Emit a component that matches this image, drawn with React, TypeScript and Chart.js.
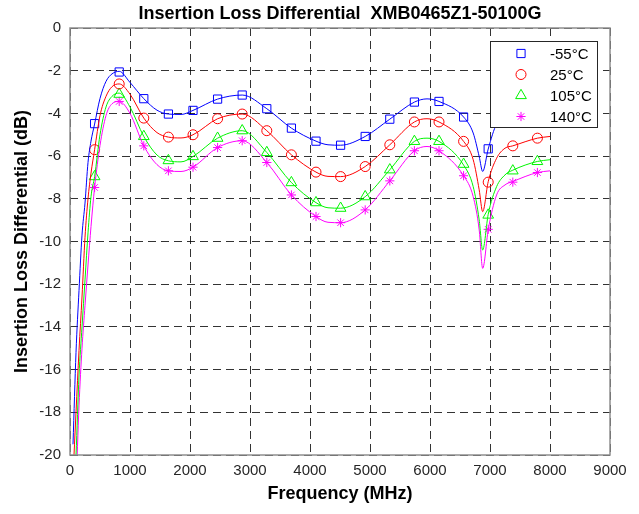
import React, { useEffect, useRef } from "react";
import { Chart, registerables } from "chart.js";
Chart.register(...registerables);

const FONT = "'Liberation Sans', Arial, Helvetica, sans-serif";
const chartTitle = "Insertion Loss Differential  XMB0465Z1-50100G";
const xTitle = "Frequency (MHz)";
const yTitle = "Insertion Loss Differential (dB)";
const seriesLabels = ["-55°C", "25°C", "105°C", "140°C"];
const seriesColors = ["rgb(0,0,255)", "rgb(255,0,0)", "rgb(0,245,0)", "rgb(255,0,255)"];
const markerStyles = ["rect", "circle", "triangle", "star"];
const markerRadii = [5.8, 5, 6.2, 4.6];

const xTicks = [0, 1000, 2000, 3000, 4000, 5000, 6000, 7000, 8000, 9000];
const yTicks = [-20, -18, -16, -14, -12, -10, -8, -6, -4, -2, 0];

// dense curve
const curveFreqs = [50, 100, 150, 200, 250, 300, 350, 410, 500, 600, 700, 820, 1000, 1230, 1450, 1640, 1850, 2050, 2460, 2870, 3280, 3690, 4100, 4300, 4510, 4920, 5330, 5740, 5950, 6150, 6560, 6720, 6820, 6878, 6970, 7110, 7250, 7380, 7790, 8000];
const curveM55 = [-19.5, -15.2, -12.3, -9.7, -8.2, -6.3, -5.3, -4.5, -3.3, -2.5, -2.15, -2.03, -2.55, -3.31, -3.85, -4.03, -4.05, -3.86, -3.33, -3.14, -3.78, -4.69, -5.3, -5.47, -5.49, -5.08, -4.27, -3.47, -3.32, -3.44, -4.17, -4.92, -6.02, -6.72, -5.67, -4.5, -4.25, -4.15, -3.9, -3.85];
const curve25 = [-21, -18, -15.1, -12.6, -9.8, -8.0, -6.8, -5.7, -4.1, -3.2, -2.75, -2.62, -3.1, -4.22, -4.9, -5.11, -5.15, -5.0, -4.25, -4.03, -4.81, -5.94, -6.75, -6.95, -6.96, -6.49, -5.47, -4.4, -4.25, -4.4, -5.31, -6.17, -7.58, -8.6, -7.2, -6.1, -5.63, -5.52, -5.16, -5.08];
const curve105 = [-23, -20, -16.3, -14, -11.8, -9.6, -7.9, -6.96, -5.0, -3.7, -3.2, -3.05, -3.7, -5.08, -5.95, -6.22, -6.27, -6.02, -5.16, -4.81, -5.83, -7.24, -8.18, -8.42, -8.44, -7.9, -6.64, -5.31, -5.16, -5.31, -6.42, -7.43, -8.99, -10.4, -8.73, -7.43, -6.88, -6.66, -6.25, -6.17];
const curve140 = [-24, -21.5, -17.7, -15, -13, -11.1, -9.3, -7.47, -5.5, -4.1, -3.55, -3.44, -4.0, -5.52, -6.4, -6.69, -6.72, -6.52, -5.6, -5.28, -6.3, -7.82, -8.83, -9.1, -9.12, -8.52, -7.16, -5.75, -5.55, -5.75, -6.92, -7.9, -9.46, -11.26, -9.46, -7.82, -7.35, -7.19, -6.77, -6.69];

// measured marker points
const markerFreqs = [410, 820, 1230, 1640, 2050, 2460, 2870, 3280, 3690, 4100, 4510, 4920, 5330, 5740, 6150, 6560, 6970, 7380, 7790];
const markM55 = [-4.48, -2.06, -3.31, -4.03, -3.86, -3.33, -3.14, -3.78, -4.69, -5.3, -5.49, -5.08, -4.27, -3.47, -3.44, -4.17, -5.66, -4.15, -3.9];
const mark25 = [-5.7, -2.62, -4.22, -5.11, -5.0, -4.25, -4.03, -4.81, -5.94, -6.75, -6.96, -6.49, -5.47, -4.4, -4.4, -5.31, -7.22, -5.52, -5.16];
const mark105 = [-6.96, -3.1, -5.08, -6.21, -6.02, -5.16, -4.81, -5.83, -7.24, -8.18, -8.44, -7.9, -6.64, -5.31, -5.31, -6.38, -8.76, -6.69, -6.25];
const mark140 = [-7.47, -3.44, -5.52, -6.69, -6.52, -5.6, -5.28, -6.3, -7.82, -8.83, -9.12, -8.52, -7.16, -5.75, -5.75, -6.92, -9.43, -7.22, -6.77];

const curves = [curveM55, curve25, curve105, curve140];
const marks = [markM55, mark25, mark105, mark140];

function drawMarker(ctx: CanvasRenderingContext2D, style: string, x: number, y: number, r: number, color: string) {
  ctx.save();
  ctx.strokeStyle = color;
  ctx.lineWidth = 1;
  ctx.beginPath();
  if (style === "rect") {
    const s = Math.SQRT1_2 * r;
    ctx.rect(x - s, y - s, 2 * s, 2 * s);
  } else if (style === "circle") {
    ctx.arc(x, y, r, 0, Math.PI * 2);
  } else if (style === "triangle") {
    ctx.moveTo(x, y - r);
    ctx.lineTo(x + r * Math.sin(Math.PI / 3), y + r * 0.5);
    ctx.lineTo(x - r * Math.sin(Math.PI / 3), y + r * 0.5);
    ctx.closePath();
  } else {
    for (let i = 0; i < 4; i++) {
      const a = (i * Math.PI) / 4;
      ctx.moveTo(x - r * Math.cos(a), y - r * Math.sin(a));
      ctx.lineTo(x + r * Math.cos(a), y + r * Math.sin(a));
    }
  }
  ctx.stroke();
  ctx.restore();
}

const decorPlugin = {
  id: "decor",
  afterDraw(chart: any) {
    const { ctx, chartArea } = chart;
    ctx.save();
    // frame
    ctx.strokeStyle = "#8f8f8f";
    ctx.lineWidth = 1.5;
    ctx.strokeRect(chartArea.left, chartArea.top, chartArea.right - chartArea.left, chartArea.bottom - chartArea.top);
    // title
    ctx.fillStyle = "#000";
    ctx.font = `bold 18px ${FONT}`;
    ctx.textAlign = "center";
    ctx.textBaseline = "middle";
    ctx.fillText(chartTitle, (chartArea.left + chartArea.right) / 2, 14);
    // legend
    const w = 107, h = 86;
    const x0 = Math.round(chartArea.right - 13 - w);
    const y0 = Math.round(chartArea.top + 13);
    ctx.fillStyle = "#fff";
    ctx.fillRect(x0, y0, w, h);
    ctx.strokeStyle = "#262626";
    ctx.lineWidth = 1;
    ctx.strokeRect(x0 + 0.5, y0 + 0.5, w, h);
    ctx.font = `15px ${FONT}`;
    ctx.textAlign = "left";
    for (let i = 0; i < seriesLabels.length; i++) {
      const yy = y0 + 12.5 + i * 21;
      drawMarker(ctx, markerStyles[i], x0 + 31, yy, markerRadii[i], seriesColors[i]);
      ctx.fillStyle = "#000";
      ctx.fillText(seriesLabels[i], x0 + 60, yy + 1);
    }
    ctx.restore();
  },
};

export default function App() {
  const ref = useRef<HTMLCanvasElement | null>(null);
  useEffect(() => {
    if (!ref.current) return;
    const datasets: any[] = [];
    curves.forEach((c, s) => {
      datasets.push({
        label: seriesLabels[s] + " curve",
        data: curveFreqs.map((f, i) => ({ x: f, y: c[i] })),
        borderColor: seriesColors[s],
        borderWidth: 1,
        pointRadius: 0,
        fill: false,
        cubicInterpolationMode: "monotone",
      });
    });
    marks.forEach((m, s) => {
      datasets.push({
        label: seriesLabels[s],
        data: markerFreqs.map((f, i) => ({ x: f, y: m[i] })),
        showLine: false,
        borderColor: seriesColors[s],
        backgroundColor: "rgba(0,0,0,0)",
        pointStyle: markerStyles[s],
        pointRadius: markerRadii[s],
        pointBorderWidth: 1,
      });
    });
    const chart = new Chart(ref.current, {
      type: "line",
      data: { datasets },
      plugins: [decorPlugin],
      options: {
        animation: false,
        responsive: false,
        devicePixelRatio: 1,
        layout: { padding: { left: 0, right: 29, top: 28, bottom: 0 } },
        plugins: { legend: { display: false }, title: { display: false }, tooltip: { enabled: false } },
        scales: {
          x: {
            type: "linear",
            min: 0,
            max: 9000,
            afterBuildTicks: (scale: any) => {
              scale.ticks = xTicks.map((v) => ({ value: v }));
            },
            afterFit: (scale: any) => {
              scale.height = 59;
            },
            ticks: {
              color: "#262626",
              font: { family: FONT, size: 15 },
              padding: 7,
              maxRotation: 0,
              autoSkip: false,
              callback: (v: any) => String(v),
            },
            grid: { color: "rgba(0,0,0,0.8)", lineWidth: 1, drawTicks: false },
            border: { display: false, dash: [8, 5] },
            title: { display: true, text: xTitle, color: "#000", font: { family: FONT, size: 18, weight: "bold" }, padding: { top: 0, bottom: 9 } },
          },
          y: {
            type: "linear",
            min: -20,
            max: 0,
            afterBuildTicks: (scale: any) => {
              scale.ticks = yTicks.map((v) => ({ value: v }));
            },
            afterFit: (scale: any) => {
              scale.width = 70;
            },
            ticks: { color: "#262626", font: { family: FONT, size: 15 }, padding: 9, autoSkip: false, callback: (v: any) => String(v) },
            grid: { color: "rgba(0,0,0,0.8)", lineWidth: 1, drawTicks: false },
            border: { display: false, dash: [8, 5] },
            title: { display: true, text: yTitle, color: "#000", font: { family: FONT, size: 18, weight: "bold" }, padding: { top: 11, bottom: 0 } },
          },
        },
      } as any,
    });
    return () => chart.destroy();
  }, []);
  return (
    <div style={{ position: "fixed", left: 0, top: 0, width: 639, height: 514, background: "#fff" }}>
      <canvas ref={ref} width={639} height={514} style={{ width: 639, height: 514, display: "block" }} />
    </div>
  );
}
